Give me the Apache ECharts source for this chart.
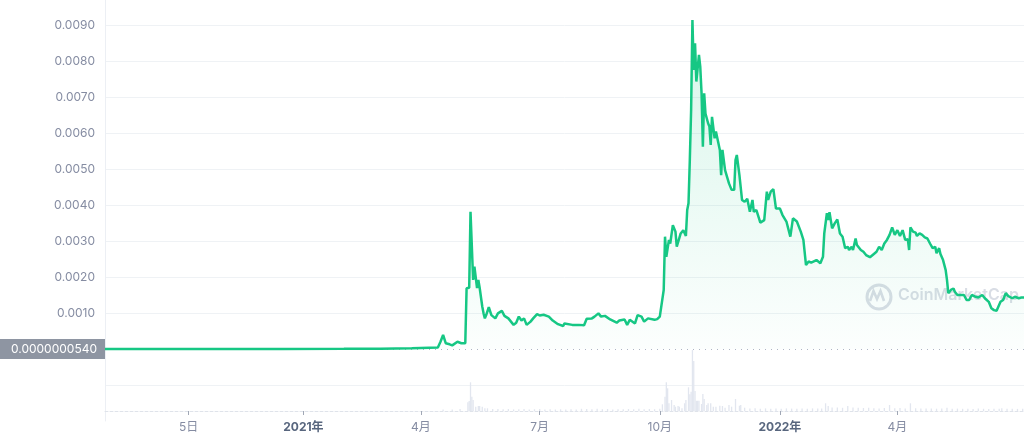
<!DOCTYPE html>
<html>
<head>
<meta charset="utf-8">
<script src="https://cdn.jsdelivr.net/npm/echarts@6/dist/echarts.min.js"></script>
<style>
html,body{margin:0;padding:0;background:#fff;}
#c{width:1024px;height:441px;}
</style>
</head>
<body>
<div id="c"></div>
<script>
// ---- data ----
const priceDates = [
'2020-08-02','2020-09-15','2020-11-01','2020-12-15','2021-02-01','2021-03-01','2021-03-25','2021-04-14',
'2021-04-16','2021-04-18','2021-04-20','2021-04-23','2021-04-25','2021-04-29','2021-05-02','2021-05-05',
'2021-05-06','2021-05-08','2021-05-09','2021-05-11','2021-05-12','2021-05-14','2021-05-15','2021-05-16',
'2021-05-18','2021-05-19','2021-05-20','2021-05-21','2021-05-23','2021-05-25','2021-05-28','2021-05-30',
'2021-06-02','2021-06-04','2021-06-07','2021-06-11','2021-06-13','2021-06-15','2021-06-17','2021-06-19',
'2021-06-21','2021-06-24','2021-06-26','2021-06-29','2021-07-01','2021-07-04','2021-07-08','2021-07-11',
'2021-07-15','2021-07-19','2021-07-20','2021-07-26','2021-07-31','2021-08-04','2021-08-06','2021-08-10',
'2021-08-12','2021-08-15','2021-08-17','2021-08-20','2021-08-24','2021-08-29','2021-08-31','2021-09-04',
'2021-09-06','2021-09-08','2021-09-12','2021-09-14','2021-09-17','2021-09-19','2021-09-22','2021-09-27',
'2021-09-29','2021-10-01','2021-10-04','2021-10-05','2021-10-06','2021-10-08','2021-10-09','2021-10-11',
'2021-10-13','2021-10-14','2021-10-17','2021-10-19','2021-10-21','2021-10-22','2021-10-23','2021-10-24',
'2021-10-25','2021-10-26','2021-10-27','2021-10-28','2021-10-29','2021-10-31','2021-11-01','2021-11-02',
'2021-11-03','2021-11-04','2021-11-05','2021-11-07','2021-11-08','2021-11-09','2021-11-10','2021-11-12',
'2021-11-13','2021-11-14','2021-11-16','2021-11-17','2021-11-18','2021-11-19','2021-11-20','2021-11-23',
'2021-11-25','2021-11-27','2021-11-28','2021-11-29','2021-12-01','2021-12-03','2021-12-05','2021-12-07',
'2021-12-09','2021-12-11','2021-12-12','2021-12-14','2021-12-16','2021-12-17','2021-12-20','2021-12-22',
'2021-12-23','2021-12-25','2021-12-27','2021-12-29','2022-01-01','2022-01-03','2022-01-06','2022-01-08',
'2022-01-09','2022-01-11','2022-01-14','2022-01-17','2022-01-19','2022-01-21','2022-01-23','2022-01-25',
'2022-01-29','2022-02-01','2022-02-03','2022-02-04','2022-02-06','2022-02-07','2022-02-08','2022-02-10',
'2022-02-12','2022-02-14','2022-02-16','2022-02-18','2022-02-20','2022-02-22','2022-02-23','2022-02-25',
'2022-02-26','2022-02-28','2022-03-01','2022-03-04','2022-03-06','2022-03-08','2022-03-11','2022-03-14',
'2022-03-16','2022-03-18','2022-03-20','2022-03-22','2022-03-24','2022-03-26','2022-03-28','2022-03-30',
'2022-04-01','2022-04-03','2022-04-05','2022-04-07','2022-04-09','2022-04-10','2022-04-11','2022-04-13',
'2022-04-15','2022-04-16','2022-04-18','2022-04-20','2022-04-22','2022-04-24','2022-04-26','2022-04-28',
'2022-04-30','2022-05-01','2022-05-03','2022-05-04','2022-05-06','2022-05-08','2022-05-09','2022-05-10',
'2022-05-12','2022-05-14','2022-05-15','2022-05-17','2022-05-19','2022-05-22','2022-05-24','2022-05-26',
'2022-05-28','2022-05-31','2022-06-02','2022-06-05','2022-06-07','2022-06-10','2022-06-12','2022-06-14',
'2022-06-16','2022-06-19','2022-06-21','2022-06-23','2022-06-25','2022-06-28','2022-06-30','2022-07-03',
'2022-07-05','2022-07-07'
];
const prices = [
0.000000054,0.0000001,0.0000003,0.000001,0.000004,0.00001,0.00002,0.00004,
0.0002,0.00039,0.00016,0.00013,0.0001,0.0002,0.00016,0.00016,
0.00169,0.0017,0.00381,0.00192,0.00229,0.00169,0.00192,0.0017,
0.00118,0.00099,0.00085,0.00094,0.00116,0.00094,0.00085,0.00099,
0.00106,0.00092,0.00085,0.00067,0.00073,0.0009,0.00079,0.00085,
0.00067,0.00076,0.00085,0.00097,0.00093,0.00095,0.0009,0.00079,
0.00069,0.00064,0.00071,0.00067,0.00067,0.00066,0.00084,0.00085,
0.0009,0.00099,0.0009,0.00092,0.00082,0.00073,0.00079,0.00082,
0.00067,0.00081,0.00071,0.00094,0.0009,0.00076,0.00085,0.00081,
0.00083,0.0009,0.00164,0.00312,0.00256,0.00303,0.00293,0.00344,
0.00326,0.00284,0.00321,0.0033,0.00314,0.00386,0.00405,0.00525,
0.00664,0.00914,0.00775,0.00849,0.00743,0.00817,0.00784,0.0071,
0.00562,0.0071,0.00654,0.00627,0.00618,0.00567,0.00645,0.00585,
0.00604,0.00606,0.00553,0.00483,0.00553,0.00548,0.00497,0.0046,
0.00442,0.00442,0.00525,0.00539,0.00483,0.00414,0.00409,0.00417,
0.00381,0.00414,0.00381,0.00386,0.00363,0.00351,0.00358,0.00437,
0.00414,0.00437,0.00444,0.0039,0.0039,0.00372,0.00354,0.00326,
0.00312,0.00363,0.00354,0.00326,0.00303,0.00233,0.00243,0.0024,
0.00247,0.00238,0.00256,0.00321,0.00377,0.00358,0.0038,0.00335,
0.00349,0.0036,0.00321,0.00312,0.0028,0.00284,0.00275,0.00284,
0.00275,0.00307,0.00289,0.00275,0.0027,0.00261,0.00255,0.00264,
0.0027,0.00284,0.00275,0.00293,0.00303,0.00317,0.00338,0.00317,
0.0033,0.00314,0.0033,0.00303,0.00305,0.00275,0.00338,0.00326,
0.00323,0.00314,0.00321,0.00317,0.0031,0.00307,0.00293,0.0028,
0.00284,0.00266,0.0028,0.00264,0.00247,0.00219,0.00192,0.00155,
0.00164,0.00168,0.00159,0.0015,0.0015,0.0015,0.00136,0.00136,
0.0015,0.00145,0.00143,0.0015,0.00141,0.00131,0.00113,0.00108,
0.00106,0.00131,0.00136,0.00155,0.00147,0.00141,0.00145,0.00141,
0.00143,0.00143
];
const volumeDates = [
'2021-04-18','2021-04-25','2021-05-01','2021-05-07','2021-05-08','2021-05-09','2021-05-10','2021-05-11',
'2021-05-13','2021-05-15','2021-05-16','2021-05-18','2021-05-20','2021-05-22','2021-05-26','2021-05-30',
'2021-06-03','2021-06-07','2021-06-11','2021-06-15','2021-06-19','2021-06-23','2021-06-27','2021-07-01',
'2021-07-05','2021-07-09','2021-07-13','2021-07-17','2021-07-21','2021-07-25','2021-07-29','2021-08-02',
'2021-08-06','2021-08-10','2021-08-14','2021-08-18','2021-08-22','2021-08-26','2021-08-30','2021-09-03',
'2021-09-07','2021-09-11','2021-09-15','2021-09-19','2021-09-23','2021-09-27','2021-10-01','2021-10-03',
'2021-10-05','2021-10-06','2021-10-07','2021-10-08','2021-10-10','2021-10-12','2021-10-13','2021-10-15',
'2021-10-16','2021-10-18','2021-10-20','2021-10-21','2021-10-23','2021-10-24','2021-10-25','2021-10-26',
'2021-10-27','2021-10-28','2021-10-29','2021-10-30','2021-10-31','2021-11-02','2021-11-03','2021-11-04',
'2021-11-06','2021-11-07','2021-11-09','2021-11-11','2021-11-13','2021-11-16','2021-11-18','2021-11-20',
'2021-11-23','2021-11-25','2021-11-28','2021-12-01','2021-12-02','2021-12-05','2021-12-09','2021-12-13',
'2021-12-17','2021-12-21','2021-12-25','2021-12-29','2022-01-02','2022-01-06','2022-01-10','2022-01-14',
'2022-01-18','2022-01-22','2022-01-26','2022-01-30','2022-02-02','2022-02-05','2022-02-07','2022-02-10',
'2022-02-14','2022-02-18','2022-02-22','2022-02-26','2022-03-02','2022-03-06','2022-03-10','2022-03-14',
'2022-03-18','2022-03-22','2022-03-26','2022-03-30','2022-04-03','2022-04-07','2022-04-11','2022-04-15',
'2022-04-19','2022-04-23','2022-04-27','2022-05-01','2022-05-05','2022-05-09','2022-05-13','2022-05-17',
'2022-05-21','2022-05-25','2022-05-29','2022-06-02','2022-06-06','2022-06-10','2022-06-14','2022-06-18',
'2022-06-20','2022-06-24','2022-06-28','2022-07-02','2022-07-06'
];
const volumes = [
1.5,1.5,2,8.7,10,28.7,14.3,11,
4.3,5,5,4.3,2.7,2.7,2,2,
1.8,2,1.6,1.8,2,1.5,1.8,2,
1.6,1.8,1.5,1.7,1.6,1.8,1.5,2.2,
2,1.8,2.2,1.8,2,1.6,1.8,1.7,
2,1.8,2.3,1.8,2,1.8,2.2,6.7,
14.3,28.7,22.7,7.7,11,6,4.3,5,
4.3,2.7,7.7,11,23.7,16.7,19.3,61,
50,20,10.3,10.3,10.3,7,17,12,
6,7.7,7.7,4.3,4.3,5.3,5,3.3,
6,4.3,12,5.3,6,3.3,2.5,2.8,
2.3,2.6,2.2,2.5,2.3,2.6,2.4,2.2,
2.5,2.3,2.6,2.4,2.5,7.7,5,3.5,
3.5,3.2,5,3.5,3.3,3,3.3,2.8,
2.6,3,6,2.8,3,2.6,7.7,2.8,
2.5,2.6,2.4,2.3,2.5,3.3,2.2,2.4,
2.2,2.3,2.1,2.4,2.2,2.1,2.3,2.2,
2.7,2.2,2.3,2.1,2.2
];
const axisStart = '2020-08-02';
const axisEnd = '2022-07-07';
const tickDates = ['2020-10-05','2021-01-01','2021-04-01','2021-07-01','2021-10-01','2022-01-01','2022-04-01'];
const tickLabels = ['5日','2021年','4月','7月','10月','2022年','4月'];
const startPrice = prices[0];

// ---- chart ----
const ts = d => Date.parse(d + 'T00:00:00Z');
const priceData = priceDates.map((d, i) => [ts(d), prices[i]]);
const volumeData = volumeDates.map((d, i) => [ts(d), volumes[i]]);
const tickVals = tickDates.map(ts);
const xMin = ts(axisStart), xMax = ts(axisEnd);

const FONT = 'Inter, "Noto Sans CJK SC", sans-serif';
const chart = echarts.init(document.getElementById('c'), null, {renderer: 'canvas'});
const G = '#eff2f5';
const T = 'rgba(0,0,0,0)';

chart.setOption({
  animation: false,
  backgroundColor: '#ffffff',
  grid: [
    {left: 105, right: 0, top: 0, bottom: 20},
    {left: 105, right: 0, top: 349, bottom: 30}
  ],
  xAxis: [
    {type: 'value', gridIndex: 0, min: xMin, max: xMax, show: false, splitLine: {show: false}},
    {type: 'value', gridIndex: 1, min: xMin, max: xMax,
      splitLine: {show: false},
      axisLine: {show: true, lineStyle: {color: '#dfe3ea', type: [3, 2], width: 1}},
      axisTick: {show: true, customValues: tickVals, length: 4, lineStyle: {color: '#a0a7b5'}},
      axisLabel: {
        customValues: tickVals, margin: 10, color: '#858ca2', fontSize: 12, fontFamily: FONT,
        formatter: v => {
          const i = tickVals.indexOf(v);
          if (i < 0) return '';
          const t = tickLabels[i];
          return t.indexOf('年') >= 0 ? '{b|' + t + '}' : t;
        },
        rich: {b: {fontWeight: 'bold', color: '#58667e', fontSize: 12, fontFamily: FONT}}
      }
    }
  ],
  yAxis: [
    {type: 'value', gridIndex: 0, min: -0.002, max: 0.009694, interval: 0.001,
      axisLine: {show: true, lineStyle: {color: '#eceff4'}},
      axisTick: {show: false},
      axisLabel: {
        color: '#858ca2', fontSize: 12, fontFamily: FONT, margin: 10,
        formatter: v => (v > 0.0005 && v < 0.0095) ? v.toFixed(4) : ''
      },
      splitLine: {show: true, lineStyle: {color: [T, G, T, G, G, G, G, G, G, G, G, G, T], width: 1}}
    },
    {type: 'value', gridIndex: 1, min: 0, max: 62, show: false, splitLine: {show: false}}
  ],
  series: [
    {
      type: 'bar', xAxisIndex: 1, yAxisIndex: 1, data: volumeData,
      barWidth: 1.3, itemStyle: {color: '#e2e6ef'}, silent: true
    },
    {
      type: 'line', xAxisIndex: 0, yAxisIndex: 0, data: priceData,
      showSymbol: false, smooth: false, z: 5,
      lineStyle: {color: '#16c784', width: 2.5},
      areaStyle: {
        origin: 'auto',
        color: new echarts.graphic.LinearGradient(0, 0, 0, 1, [
          {offset: 0, color: 'rgba(22,199,132,0.24)'},
          {offset: 1, color: 'rgba(22,199,132,0.02)'}
        ])
      },
      markLine: {
        silent: true, symbol: 'none',
        lineStyle: {color: '#aeb6c4', type: [1, 5], width: 1},
        label: {
          show: true, position: 'start', distance: 0,
          formatter: () => startPrice.toFixed(10),
          color: '#ffffff', fontSize: 12, fontFamily: FONT,
          backgroundColor: '#8e95a2', padding: [4, 8, 4, 8], width: 89, align: 'right'
        },
        data: [{yAxis: startPrice}]
      }
    }
  ],
  graphic: [
    {type: 'circle', left: 864.5, top: 282.5, shape: {r: 12}, z: 1,
      style: {fill: 'none', stroke: '#d9dde5', lineWidth: 3}},
    {type: 'polyline', z: 1, shape: {points: [[870, 301], [873.5, 291], [877, 299], [880.5, 291], [884, 301]]},
      style: {fill: 'none', stroke: '#d9dde5', lineWidth: 2.6}},
    {type: 'text', left: 898, top: 287, z: 1,
      style: {text: 'CoinMarketCap', fill: '#d9dde5', font: '600 16px ' + FONT}}
  ]
});
</script>
</body>
</html>
